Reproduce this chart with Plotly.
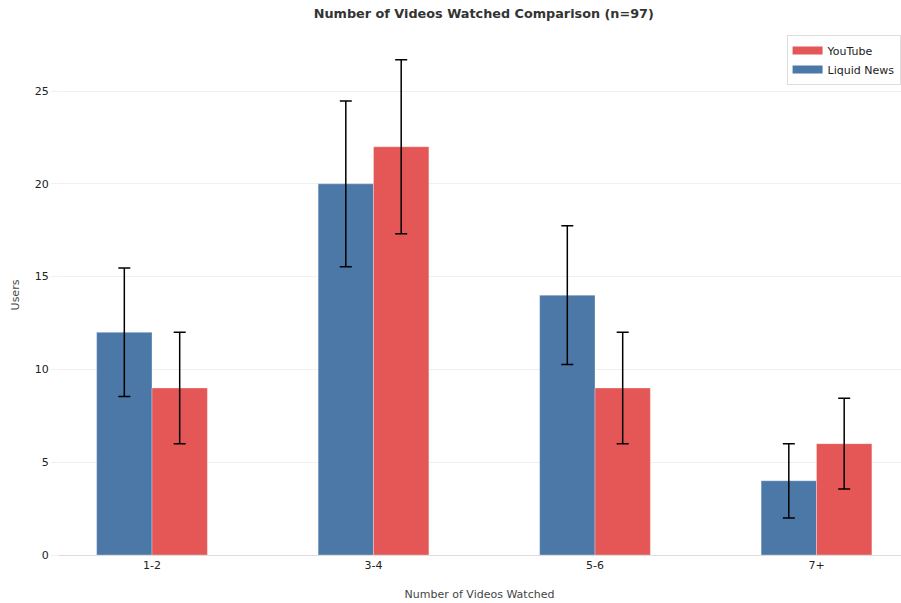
import plotly.graph_objects as go

categories = ["1-2", "3-4", "5-6", "7+"]
liquid_news = [12, 20, 14, 4]
liquid_news_err = [3.46, 4.47, 3.74, 2.0]
youtube = [9, 22, 9, 6]
youtube_err = [3.0, 4.69, 3.0, 2.45]

blue = "#4c78a8"
red = "#e45756"

fig = go.Figure()
fig.add_trace(go.Bar(
    x=categories, y=liquid_news, name="Liquid News", showlegend=False,
    marker=dict(color=blue, line=dict(color="rgba(255,255,255,0.3)", width=1)),
    error_y=dict(type="data", array=liquid_news_err, color="black", thickness=1.5, width=6),
))
fig.add_trace(go.Bar(
    x=categories, y=youtube, name="YouTube", showlegend=False,
    marker=dict(color=red, line=dict(color="rgba(255,255,255,0.3)", width=1)),
    error_y=dict(type="data", array=youtube_err, color="black", thickness=1.5, width=6),
))
# legend entries (rectangular patches)
fig.add_trace(go.Scatter(x=[None], y=[None], mode="lines", name="Liquid News",
                         line=dict(color=blue, width=8)))
fig.add_trace(go.Scatter(x=[None], y=[None], mode="lines", name="YouTube",
                         line=dict(color=red, width=8)))

fig.update_layout(
    width=901, height=603,
    barmode="group", bargap=0.5, bargroupgap=0,
    paper_bgcolor="white", plot_bgcolor="white",
    font=dict(family="DejaVu Sans", size=11, color="#222"),
    title=dict(text="<b>Number of Videos Watched Comparison (n=97)</b>",
               x=0.537, xref="container", xanchor="center",
               y=0.977, yref="container", yanchor="middle",
               font=dict(size=12.8, color="#333")),
    margin=dict(l=58, r=0, t=35, b=48, autoexpand=False),
    legend=dict(x=0.9995, xanchor="right", y=1.0, yanchor="top", traceorder="reversed",
                bgcolor="white", bordercolor="#dddddd", borderwidth=1,
                itemwidth=30, tracegroupgap=0,
                font=dict(size=11, color="#222")),
    showlegend=True,
)
fig.update_xaxes(
    range=[-0.4244, 3.3815], showgrid=False, showline=True, linecolor="#dddddd", linewidth=1,
    ticks="", tickfont=dict(size=11, color="#222"), automargin=False,
    title=dict(text="Number of Videos Watched", font=dict(size=11, color="#444"), standoff=19),
)
fig.update_yaxes(
    range=[0, 28.02], showgrid=True, gridcolor="#f0f0f0", gridwidth=1, zeroline=False,
    showline=False, ticks="outside", ticklen=6, tickcolor="#f0f0f0", dtick=5,
    tickfont=dict(size=11, color="#222"), automargin=False,
    title=dict(text="Users", font=dict(size=11, color="#444"), standoff=12),
)

fig.write_html(
    "out.html",
    config={"displayModeBar": False},
    post_script="document.body.style.margin='0';document.body.style.overflow='hidden';",
)
